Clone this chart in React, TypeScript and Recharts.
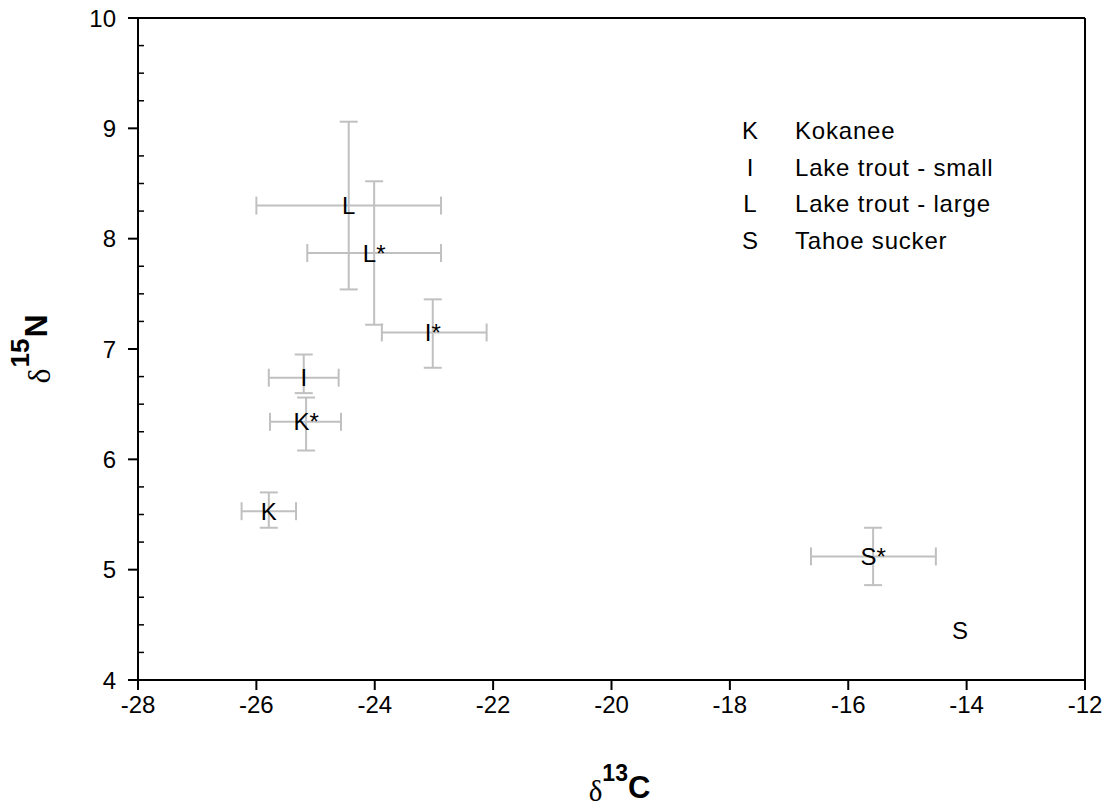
import React from 'react';
import { ScatterChart, Scatter, XAxis, YAxis, ErrorBar, ReferenceLine } from 'recharts';

// ---- data ----
const labels = ['K', 'I', 'L', 'S', 'K*', 'I*', 'L*', 'S*'];
const xValues = [-25.79, -25.2, -24.44, -14.11, -25.16, -23.02, -24.01, -15.58];
const yValues = [5.53, 6.74, 8.3, 4.45, 6.34, 7.15, 7.87, 5.12];
const xErrors: ([number, number] | null)[] = [
  [0.46, 0.46], [0.59, 0.59], [1.56, 1.56], null, [0.61, 0.59], [0.86, 0.91], [1.13, 1.13], [1.05, 1.06],
];
const yErrors: ([number, number] | null)[] = [
  [0.15, 0.17], [0.14, 0.21], [0.76, 0.76], null, [0.26, 0.22], [0.32, 0.3], [0.65, 0.65], [0.26, 0.26],
];
const xTicks = [-28, -26, -24, -22, -20, -18, -16, -14, -12];
const yMajorTicks = [4, 5, 6, 7, 8, 9, 10];
const yMinorStep = 0.25;
const legendSymbols = ['K', 'I', 'L', 'S'];
const legendNames = ['Kokanee', 'Lake trout - small', 'Lake trout - large', 'Tahoe sucker'];

const rows = labels.map((label, i) => ({
  label,
  x: xValues[i],
  y: yValues[i],
  xErr: xErrors[i],
  yErr: yErrors[i],
}));
const rowsWithErr = rows.filter((r) => r.xErr);
const rowsNoErr = rows.filter((r) => !r.xErr);

const yTicks: number[] = [];
for (let v = yMajorTicks[0]; v <= yMajorTicks[yMajorTicks.length - 1] + 1e-9; v += yMinorStep) {
  yTicks.push(Math.round(v * 100) / 100);
}

const FONT = '"Liberation Sans", Arial, sans-serif';
const ERR = '#c0c0c0';

const W = 1107;
const H = 809;

const LabelShape = (props: any) => {
  const { cx, cy, payload } = props;
  return (
    <text
      x={cx}
      y={cy}
      textAnchor="middle"
      dominantBaseline="central"
      fontFamily={FONT}
      fontSize={24}
      fill="#000"
    >
      {payload.label}
    </text>
  );
};

const YTick = (props: any) => {
  const { x, y, payload } = props;
  const v = payload.value;
  const major = Math.abs(v - Math.round(v)) < 1e-6;
  return (
    <g>
      {major ? (
        <line x1={x - 10} x2={x} y1={y} y2={y} stroke="#000" strokeWidth={2} />
      ) : (
        <line x1={x} x2={x + 6} y1={y} y2={y} stroke="#000" strokeWidth={1.5} />
      )}
      {major && (
        <text x={x - 22} y={y} textAnchor="end" dominantBaseline="central" fontFamily={FONT} fontSize={24} fill="#000">
          {v}
        </text>
      )}
    </g>
  );
};

const XTick = (props: any) => {
  const { x, y, payload } = props;
  return (
    <text x={x} y={y + 12} textAnchor="middle" dominantBaseline="central" fontFamily={FONT} fontSize={24} fill="#000">
      {payload.value}
    </text>
  );
};

const XTitle = (props: any) => {
  const vb = props.viewBox || { x: 138, y: 680, width: 947, height: 60 };
  const cx = vb.x + vb.width / 2 + 8;
  const by = vb.y + 121;
  return (
    <text x={cx} y={by} textAnchor="middle" fill="#000" fontFamily={FONT}>
      <tspan fontFamily='"Liberation Serif", serif' fontSize={29}>δ</tspan>
      <tspan fontSize={23} fontWeight="bold" dy={-20}>13</tspan>
      <tspan fontSize={31} fontWeight="bold" dy={17}>C</tspan>
    </text>
  );
};

const YTitle = (props: any) => {
  const vb = props.viewBox || { x: 38, y: 18, width: 100, height: 662 };
  const cy = vb.y + vb.height / 2;
  const bx = 50;
  return (
    <text
      x={bx}
      y={cy}
      textAnchor="middle"
      fill="#000"
      fontFamily={FONT}
      transform={`rotate(-90, ${bx}, ${cy})`}
    >
      <tspan fontFamily='"Liberation Serif", serif' fontSize={32}>δ</tspan>
      <tspan fontSize={26} fontWeight="bold" dy={-21} dx={1}>15</tspan>
      <tspan fontSize={32} fontWeight="bold" dy={18} dx={1}>N</tspan>
    </text>
  );
};

export default function App() {
  return (
    <div style={{ position: 'absolute', left: 0, top: 0, width: W, height: H, background: '#fff' }}>
      <ScatterChart width={W} height={H} margin={{ top: 18, right: 22, left: 38, bottom: 69 }}>
        <XAxis
          type="number"
          dataKey="x"
          domain={[-28, -12]}
          ticks={xTicks}
          interval={0}
          height={60}
          axisLine={{ stroke: '#000', strokeWidth: 2 }}
          tickLine={{ stroke: '#000', strokeWidth: 2 }}
          tickSize={10}
          tick={<XTick />}
          label={<XTitle />}
          allowDataOverflow
        />
        <YAxis
          type="number"
          dataKey="y"
          domain={[4, 10]}
          ticks={yTicks}
          interval={0}
          width={100}
          axisLine={{ stroke: '#000', strokeWidth: 2 }}
          tickLine={false}
          tickSize={0}
          tickMargin={0}
          tick={<YTick />}
          label={<YTitle />}
          allowDataOverflow
        />
        <ReferenceLine y={10} stroke="#000" strokeWidth={2} />
        <ReferenceLine x={-12} stroke="#000" strokeWidth={2} />
        <Scatter data={rowsWithErr} shape={<LabelShape />} isAnimationActive={false}>
          <ErrorBar dataKey="xErr" direction="x" width={9} stroke={ERR} strokeWidth={2} />
          <ErrorBar dataKey="yErr" direction="y" width={9} stroke={ERR} strokeWidth={2} />
        </Scatter>
        <Scatter data={rowsNoErr} shape={<LabelShape />} isAnimationActive={false} />
      </ScatterChart>
      <div style={{ position: 'absolute', left: 0, top: 0, fontFamily: FONT, fontSize: 24, color: '#000' }}>
        {legendSymbols.map((s, i) => (
          <div key={s} style={{ position: 'absolute', top: 116 + i * 36.7, left: 0, height: 30, lineHeight: '30px', whiteSpace: 'nowrap' }}>
            <span style={{ position: 'absolute', left: 735, width: 30, textAlign: 'center' }}>{s}</span>
            <span style={{ position: 'absolute', left: 795, letterSpacing: 0.8 }}>{legendNames[i]}</span>
          </div>
        ))}
      </div>
    </div>
  );
}
